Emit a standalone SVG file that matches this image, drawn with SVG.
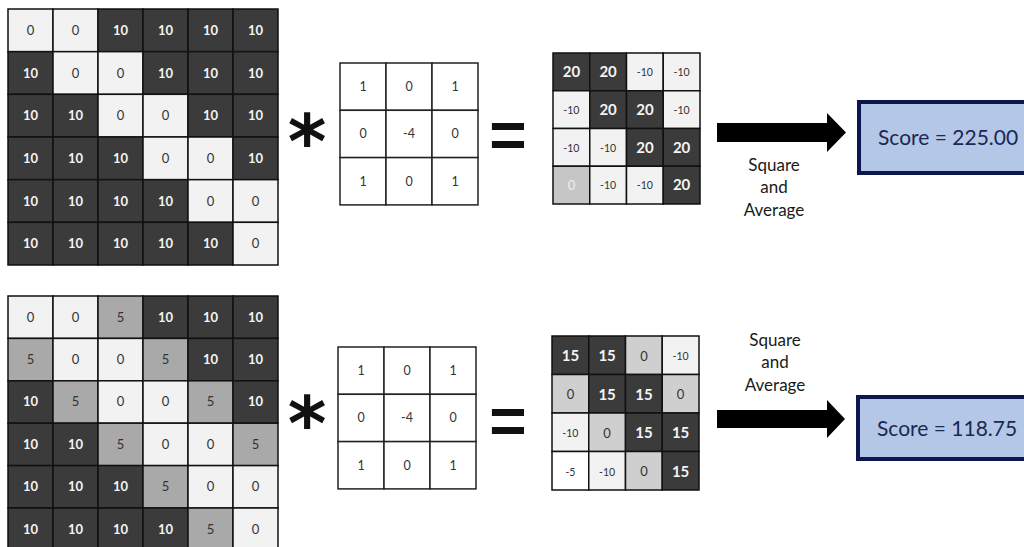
<svg xmlns="http://www.w3.org/2000/svg" width="1024" height="547" viewBox="0 0 1024 547">
<style>
text{font-family:Lato,"Open Sans","Liberation Sans",sans-serif;text-anchor:middle}
.d{fill:#3b3b3b;stroke:#111;stroke-width:1.5}
.l{fill:#f2f2f2;stroke:#111;stroke-width:1.5}
.g{fill:#a9a9a9;stroke:#111;stroke-width:1.5}
.g2{fill:#cfcfcf;stroke:#111;stroke-width:1.5}
.w{fill:#ffffff;stroke:#111;stroke-width:1.5}
.td{fill:#f4f4f4;font-size:13px;font-weight:bold}
.tl{fill:#333;font-size:13px}
.rd{fill:#f4f4f4;font-size:15px;font-weight:bold}
.rl{fill:#333;font-size:10.5px}
.rg{fill:#333;font-size:13px}
.k{fill:#fff;stroke:#222;stroke-width:1.5}
.tk{fill:#333;font-size:12.5px}
.op{font-family:"DejaVu Sans",sans-serif;font-weight:bold;fill:#111}
.sa{fill:#1a1a1a;font-size:17px}
.box{fill:#b4c7e7;stroke:#0e1650;stroke-width:4}
.sc{fill:#1c2754;font-size:21px;text-anchor:start}
.arrow{fill:#000}
</style>

<g id="input-top" transform="translate(8,9)">
<rect class="l" x="0" y="0" width="45" height="42.67"/><text class="tl" x="22.5" y="25.8">0</text>
<rect class="l" x="45" y="0" width="45" height="42.67"/><text class="tl" x="67.5" y="25.8">0</text>
<rect class="d" x="90" y="0" width="45" height="42.67"/><text class="td" x="112.5" y="25.8">10</text>
<rect class="d" x="135" y="0" width="45" height="42.67"/><text class="td" x="157.5" y="25.8">10</text>
<rect class="d" x="180" y="0" width="45" height="42.67"/><text class="td" x="202.5" y="25.8">10</text>
<rect class="d" x="225" y="0" width="45" height="42.67"/><text class="td" x="247.5" y="25.8">10</text>

<rect class="d" x="0" y="42.67" width="45" height="42.67"/><text class="td" x="22.5" y="68.5">10</text>
<rect class="l" x="45" y="42.67" width="45" height="42.67"/><text class="tl" x="67.5" y="68.5">0</text>
<rect class="l" x="90" y="42.67" width="45" height="42.67"/><text class="tl" x="112.5" y="68.5">0</text>
<rect class="d" x="135" y="42.67" width="45" height="42.67"/><text class="td" x="157.5" y="68.5">10</text>
<rect class="d" x="180" y="42.67" width="45" height="42.67"/><text class="td" x="202.5" y="68.5">10</text>
<rect class="d" x="225" y="42.67" width="45" height="42.67"/><text class="td" x="247.5" y="68.5">10</text>

<rect class="d" x="0" y="85.33" width="45" height="42.67"/><text class="td" x="22.5" y="111.2">10</text>
<rect class="d" x="45" y="85.33" width="45" height="42.67"/><text class="td" x="67.5" y="111.2">10</text>
<rect class="l" x="90" y="85.33" width="45" height="42.67"/><text class="tl" x="112.5" y="111.2">0</text>
<rect class="l" x="135" y="85.33" width="45" height="42.67"/><text class="tl" x="157.5" y="111.2">0</text>
<rect class="d" x="180" y="85.33" width="45" height="42.67"/><text class="td" x="202.5" y="111.2">10</text>
<rect class="d" x="225" y="85.33" width="45" height="42.67"/><text class="td" x="247.5" y="111.2">10</text>

<rect class="d" x="0" y="128" width="45" height="42.67"/><text class="td" x="22.5" y="153.8">10</text>
<rect class="d" x="45" y="128" width="45" height="42.67"/><text class="td" x="67.5" y="153.8">10</text>
<rect class="d" x="90" y="128" width="45" height="42.67"/><text class="td" x="112.5" y="153.8">10</text>
<rect class="l" x="135" y="128" width="45" height="42.67"/><text class="tl" x="157.5" y="153.8">0</text>
<rect class="l" x="180" y="128" width="45" height="42.67"/><text class="tl" x="202.5" y="153.8">0</text>
<rect class="d" x="225" y="128" width="45" height="42.67"/><text class="td" x="247.5" y="153.8">10</text>

<rect class="d" x="0" y="170.67" width="45" height="42.67"/><text class="td" x="22.5" y="196.5">10</text>
<rect class="d" x="45" y="170.67" width="45" height="42.67"/><text class="td" x="67.5" y="196.5">10</text>
<rect class="d" x="90" y="170.67" width="45" height="42.67"/><text class="td" x="112.5" y="196.5">10</text>
<rect class="d" x="135" y="170.67" width="45" height="42.67"/><text class="td" x="157.5" y="196.5">10</text>
<rect class="l" x="180" y="170.67" width="45" height="42.67"/><text class="tl" x="202.5" y="196.5">0</text>
<rect class="l" x="225" y="170.67" width="45" height="42.67"/><text class="tl" x="247.5" y="196.5">0</text>

<rect class="d" x="0" y="213.33" width="45" height="42.67"/><text class="td" x="22.5" y="239.2">10</text>
<rect class="d" x="45" y="213.33" width="45" height="42.67"/><text class="td" x="67.5" y="239.2">10</text>
<rect class="d" x="90" y="213.33" width="45" height="42.67"/><text class="td" x="112.5" y="239.2">10</text>
<rect class="d" x="135" y="213.33" width="45" height="42.67"/><text class="td" x="157.5" y="239.2">10</text>
<rect class="d" x="180" y="213.33" width="45" height="42.67"/><text class="td" x="202.5" y="239.2">10</text>
<rect class="l" x="225" y="213.33" width="45" height="42.67"/><text class="tl" x="247.5" y="239.2">0</text>
</g>

<g id="input-bottom" transform="translate(8,296)">
<rect class="l" x="0" y="0" width="45" height="42.4"/><text class="tl" x="22.5" y="25.5">0</text>
<rect class="l" x="45" y="0" width="45" height="42.4"/><text class="tl" x="67.5" y="25.5">0</text>
<rect class="g" x="90" y="0" width="45" height="42.4"/><text class="tl" x="112.5" y="25.5">5</text>
<rect class="d" x="135" y="0" width="45" height="42.4"/><text class="td" x="157.5" y="25.5">10</text>
<rect class="d" x="180" y="0" width="45" height="42.4"/><text class="td" x="202.5" y="25.5">10</text>
<rect class="d" x="225" y="0" width="45" height="42.4"/><text class="td" x="247.5" y="25.5">10</text>

<rect class="g" x="0" y="42.4" width="45" height="42.4"/><text class="tl" x="22.5" y="67.9">5</text>
<rect class="l" x="45" y="42.4" width="45" height="42.4"/><text class="tl" x="67.5" y="67.9">0</text>
<rect class="l" x="90" y="42.4" width="45" height="42.4"/><text class="tl" x="112.5" y="67.9">0</text>
<rect class="g" x="135" y="42.4" width="45" height="42.4"/><text class="tl" x="157.5" y="67.9">5</text>
<rect class="d" x="180" y="42.4" width="45" height="42.4"/><text class="td" x="202.5" y="67.9">10</text>
<rect class="d" x="225" y="42.4" width="45" height="42.4"/><text class="td" x="247.5" y="67.9">10</text>

<rect class="d" x="0" y="84.8" width="45" height="42.4"/><text class="td" x="22.5" y="110.3">10</text>
<rect class="g" x="45" y="84.8" width="45" height="42.4"/><text class="tl" x="67.5" y="110.3">5</text>
<rect class="l" x="90" y="84.8" width="45" height="42.4"/><text class="tl" x="112.5" y="110.3">0</text>
<rect class="l" x="135" y="84.8" width="45" height="42.4"/><text class="tl" x="157.5" y="110.3">0</text>
<rect class="g" x="180" y="84.8" width="45" height="42.4"/><text class="tl" x="202.5" y="110.3">5</text>
<rect class="d" x="225" y="84.8" width="45" height="42.4"/><text class="td" x="247.5" y="110.3">10</text>

<rect class="d" x="0" y="127.2" width="45" height="42.4"/><text class="td" x="22.5" y="152.7">10</text>
<rect class="d" x="45" y="127.2" width="45" height="42.4"/><text class="td" x="67.5" y="152.7">10</text>
<rect class="g" x="90" y="127.2" width="45" height="42.4"/><text class="tl" x="112.5" y="152.7">5</text>
<rect class="l" x="135" y="127.2" width="45" height="42.4"/><text class="tl" x="157.5" y="152.7">0</text>
<rect class="l" x="180" y="127.2" width="45" height="42.4"/><text class="tl" x="202.5" y="152.7">0</text>
<rect class="g" x="225" y="127.2" width="45" height="42.4"/><text class="tl" x="247.5" y="152.7">5</text>

<rect class="d" x="0" y="169.6" width="45" height="42.4"/><text class="td" x="22.5" y="195.1">10</text>
<rect class="d" x="45" y="169.6" width="45" height="42.4"/><text class="td" x="67.5" y="195.1">10</text>
<rect class="d" x="90" y="169.6" width="45" height="42.4"/><text class="td" x="112.5" y="195.1">10</text>
<rect class="g" x="135" y="169.6" width="45" height="42.4"/><text class="tl" x="157.5" y="195.1">5</text>
<rect class="l" x="180" y="169.6" width="45" height="42.4"/><text class="tl" x="202.5" y="195.1">0</text>
<rect class="l" x="225" y="169.6" width="45" height="42.4"/><text class="tl" x="247.5" y="195.1">0</text>

<rect class="d" x="0" y="212" width="45" height="42.4"/><text class="td" x="22.5" y="237.5">10</text>
<rect class="d" x="45" y="212" width="45" height="42.4"/><text class="td" x="67.5" y="237.5">10</text>
<rect class="d" x="90" y="212" width="45" height="42.4"/><text class="td" x="112.5" y="237.5">10</text>
<rect class="d" x="135" y="212" width="45" height="42.4"/><text class="td" x="157.5" y="237.5">10</text>
<rect class="g" x="180" y="212" width="45" height="42.4"/><text class="tl" x="202.5" y="237.5">5</text>
<rect class="l" x="225" y="212" width="45" height="42.4"/><text class="tl" x="247.5" y="237.5">0</text>
</g>

<g id="op-star-top"><text class="op" x="307" y="168" font-size="74">*</text></g>
<g id="op-star-bottom"><text class="op" x="307" y="450" font-size="74">*</text></g>

<g id="kernel-top" transform="translate(340,63)">
<rect class="k" x="0" y="0" width="46" height="47.3"/><text class="tk" x="23" y="28">1</text>
<rect class="k" x="46" y="0" width="46" height="47.3"/><text class="tk" x="69" y="28">0</text>
<rect class="k" x="92" y="0" width="46" height="47.3"/><text class="tk" x="115" y="28">1</text>
<rect class="k" x="0" y="47.3" width="46" height="47.3"/><text class="tk" x="23" y="75.3">0</text>
<rect class="k" x="46" y="47.3" width="46" height="47.3"/><text class="tk" x="69" y="75.3">-4</text>
<rect class="k" x="92" y="47.3" width="46" height="47.3"/><text class="tk" x="115" y="75.3">0</text>
<rect class="k" x="0" y="94.6" width="46" height="47.3"/><text class="tk" x="23" y="122.6">1</text>
<rect class="k" x="46" y="94.6" width="46" height="47.3"/><text class="tk" x="69" y="122.6">0</text>
<rect class="k" x="92" y="94.6" width="46" height="47.3"/><text class="tk" x="115" y="122.6">1</text>
</g>

<g id="kernel-bottom" transform="translate(338,347)">
<rect class="k" x="0" y="0" width="46" height="47.3"/><text class="tk" x="23" y="28">1</text>
<rect class="k" x="46" y="0" width="46" height="47.3"/><text class="tk" x="69" y="28">0</text>
<rect class="k" x="92" y="0" width="46" height="47.3"/><text class="tk" x="115" y="28">1</text>
<rect class="k" x="0" y="47.3" width="46" height="47.3"/><text class="tk" x="23" y="75.3">0</text>
<rect class="k" x="46" y="47.3" width="46" height="47.3"/><text class="tk" x="69" y="75.3">-4</text>
<rect class="k" x="92" y="47.3" width="46" height="47.3"/><text class="tk" x="115" y="75.3">0</text>
<rect class="k" x="0" y="94.6" width="46" height="47.3"/><text class="tk" x="23" y="122.6">1</text>
<rect class="k" x="46" y="94.6" width="46" height="47.3"/><text class="tk" x="69" y="122.6">0</text>
<rect class="k" x="92" y="94.6" width="46" height="47.3"/><text class="tk" x="115" y="122.6">1</text>
</g>

<g id="op-eq-top"><text class="op" x="508" y="157" font-size="64" style="font-family:'Liberation Sans',sans-serif">=</text></g>
<g id="op-eq-bottom"><text class="op" x="508" y="443" font-size="64" style="font-family:'Liberation Sans',sans-serif">=</text></g>

<g id="result-top" transform="translate(553,53)">
<rect class="d" x="0" y="0" width="36.75" height="37.75"/><text class="rd" x="18.4" y="24">20</text>
<rect class="d" x="36.75" y="0" width="36.75" height="37.75"/><text class="rd" x="55.1" y="24">20</text>
<rect class="l" x="73.5" y="0" width="36.75" height="37.75"/><text class="rl" x="91.9" y="23">-10</text>
<rect class="l" x="110.25" y="0" width="36.75" height="37.75"/><text class="rl" x="128.6" y="23">-10</text>

<rect class="l" x="0" y="37.75" width="36.75" height="37.75"/><text class="rl" x="18.4" y="60.75">-10</text>
<rect class="d" x="36.75" y="37.75" width="36.75" height="37.75"/><text class="rd" x="55.1" y="61.75">20</text>
<rect class="d" x="73.5" y="37.75" width="36.75" height="37.75"/><text class="rd" x="91.9" y="61.75">20</text>
<rect class="l" x="110.25" y="37.75" width="36.75" height="37.75"/><text class="rl" x="128.6" y="60.75">-10</text>

<rect class="l" x="0" y="75.5" width="36.75" height="37.75"/><text class="rl" x="18.4" y="98.5">-10</text>
<rect class="l" x="36.75" y="75.5" width="36.75" height="37.75"/><text class="rl" x="55.1" y="98.5">-10</text>
<rect class="d" x="73.5" y="75.5" width="36.75" height="37.75"/><text class="rd" x="91.9" y="99.5">20</text>
<rect class="d" x="110.25" y="75.5" width="36.75" height="37.75"/><text class="rd" x="128.6" y="99.5">20</text>

<rect class="g2" x="0" y="113.25" width="36.75" height="37.75" style="fill:#c6c6c6"/><text class="rg" x="18.4" y="137" style="fill:#eeeeee">0</text>
<rect class="l" x="36.75" y="113.25" width="36.75" height="37.75"/><text class="rl" x="55.1" y="136.25">-10</text>
<rect class="l" x="73.5" y="113.25" width="36.75" height="37.75"/><text class="rl" x="91.9" y="136.25">-10</text>
<rect class="d" x="110.25" y="113.25" width="36.75" height="37.75"/><text class="rd" x="128.6" y="137.25">20</text>
</g>

<g id="result-bottom" transform="translate(552,336)">
<rect class="d" x="0" y="0" width="36.75" height="38.5"/><text class="rd" x="18.4" y="25">15</text>
<rect class="d" x="36.75" y="0" width="36.75" height="38.5"/><text class="rd" x="55.1" y="25">15</text>
<rect class="g2" x="73.5" y="0" width="36.75" height="38.5"/><text class="rg" x="91.9" y="24.5">0</text>
<rect class="l" x="110.25" y="0" width="36.75" height="38.5"/><text class="rl" x="128.6" y="24">-10</text>

<rect class="g2" x="0" y="38.5" width="36.75" height="38.5"/><text class="rg" x="18.4" y="63">0</text>
<rect class="d" x="36.75" y="38.5" width="36.75" height="38.5"/><text class="rd" x="55.1" y="63.5">15</text>
<rect class="d" x="73.5" y="38.5" width="36.75" height="38.5"/><text class="rd" x="91.9" y="63.5">15</text>
<rect class="g2" x="110.25" y="38.5" width="36.75" height="38.5"/><text class="rg" x="128.6" y="63">0</text>

<rect class="l" x="0" y="77" width="36.75" height="38.5"/><text class="rl" x="18.4" y="101">-10</text>
<rect class="g2" x="36.75" y="77" width="36.75" height="38.5"/><text class="rg" x="55.1" y="101.5">0</text>
<rect class="d" x="73.5" y="77" width="36.75" height="38.5"/><text class="rd" x="91.9" y="102">15</text>
<rect class="d" x="110.25" y="77" width="36.75" height="38.5"/><text class="rd" x="128.6" y="102">15</text>

<rect class="w" x="0" y="115.5" width="36.75" height="38.5"/><text class="rl" x="18.4" y="139.5">-5</text>
<rect class="l" x="36.75" y="115.5" width="36.75" height="38.5"/><text class="rl" x="55.1" y="139.5">-10</text>
<rect class="g2" x="73.5" y="115.5" width="36.75" height="38.5"/><text class="rg" x="91.9" y="140">0</text>
<rect class="d" x="110.25" y="115.5" width="36.75" height="38.5"/><text class="rd" x="128.6" y="140.5">15</text>
</g>

<g id="connectors">
<polygon class="arrow" points="717,123 827,123 827,113 846,132.5 827,152 827,142 717,142"/>
<polygon class="arrow" points="717,410 827,410 827,400 845,419 827,438 827,428 717,428"/>
</g>

<g id="label-top">
<text class="sa" x="774" y="171">Square</text>
<text class="sa" x="774" y="193">and</text>
<text class="sa" x="774" y="216">Average</text>
</g>
<g id="label-bottom">
<text class="sa" x="775" y="346">Square</text>
<text class="sa" x="775" y="368">and</text>
<text class="sa" x="775" y="391">Average</text>
</g>

<g id="score-top">
<rect class="box" x="859" y="102" width="180" height="71"/>
<text class="sc" x="878" y="145">Score = 225.00</text>
</g>
<g id="score-bottom">
<rect class="box" x="858" y="397" width="180" height="62"/>
<text class="sc" x="877" y="436">Score = 118.75</text>
</g>
</svg>
